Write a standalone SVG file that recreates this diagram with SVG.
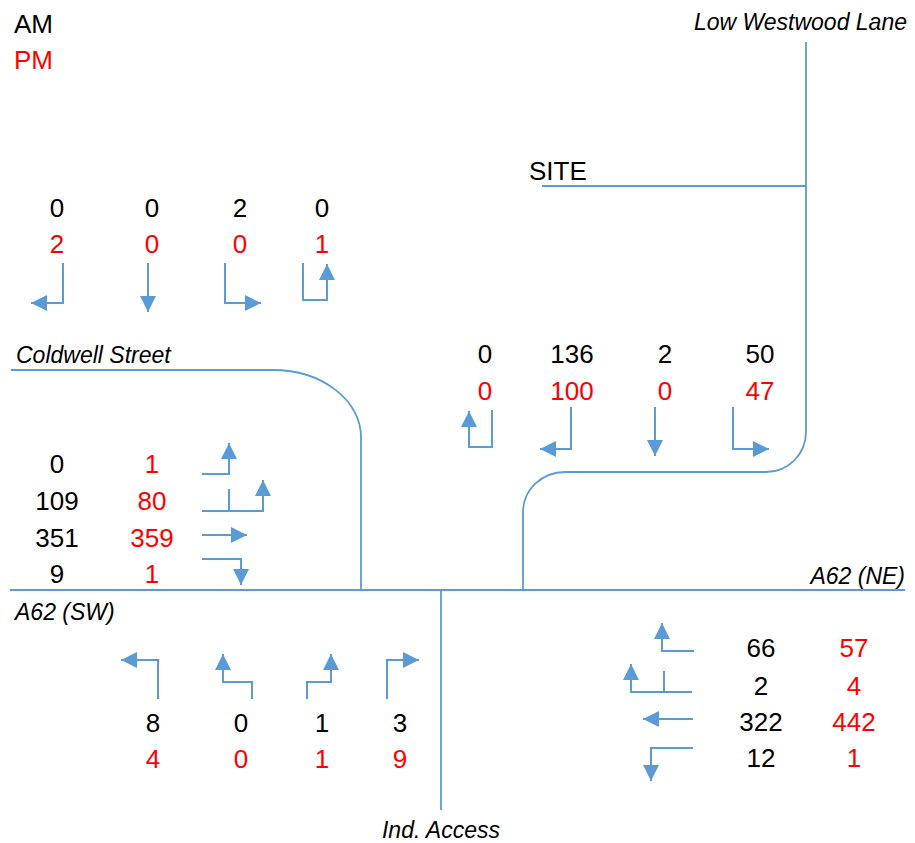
<svg xmlns="http://www.w3.org/2000/svg" width="915" height="843" viewBox="0 0 915 843">
<style>
.road{fill:none;stroke:#5B9BD5;stroke-width:1.8}
.arr{fill:none;stroke:#5B9BD5;stroke-width:2;marker-end:url(#ah)}
.tick{fill:none;stroke:#5B9BD5;stroke-width:2}
text{font-family:"Liberation Sans",Arial,sans-serif}
.n{font-size:26px;text-anchor:middle;fill:#000}
.r{font-size:26px;text-anchor:middle;fill:#FF0000}
.lbl{font-size:23px;font-style:italic;fill:#000}
</style>
<defs>
<marker id="ah" markerUnits="userSpaceOnUse" markerWidth="17" markerHeight="17" refX="16" refY="8" orient="auto">
<path d="M0,0 L16,8 L0,16 z" fill="#5B9BD5"/>
</marker>
</defs>
<g id="legend">
<text x="14" y="33" style="font-size:26px;fill:#000">AM</text>
<text x="14" y="69" style="font-size:26px;fill:#FF0000">PM</text>
</g>
<g id="roads">
<path class="road" d="M806,42 V432 A40,40 0 0 1 766,472 H565 A42,40 0 0 0 523,512 V590"/>
<path class="road" d="M542,186 H806"/>
<path class="road" d="M11,370 H273 A88,67 0 0 1 361,437 V590"/>
<path class="road" d="M10,590 H905"/>
<path class="road" d="M441,590 V810"/>
</g>
<g id="labels">
<text class="lbl" x="907" y="30" text-anchor="end">Low Westwood Lane</text>
<text x="529" y="180" style="font-size:26px;fill:#000">SITE</text>
<text class="lbl" x="16" y="363">Coldwell Street</text>
<text class="lbl" x="905" y="584" text-anchor="end">A62 (NE)</text>
<text class="lbl" x="15" y="620">A62 (SW)</text>
<text class="lbl" x="441" y="838" text-anchor="middle">Ind. Access</text>
</g>
<g id="group-north-coldwell">
<text class="n" x="57" y="217">0</text><text class="n" x="152" y="217">0</text><text class="n" x="240" y="217">2</text><text class="n" x="322" y="217">0</text>
<text class="r" x="57" y="253">2</text><text class="r" x="152" y="253">0</text><text class="r" x="240" y="253">0</text><text class="r" x="322" y="253">1</text>
</g>
<g id="group-site">
<text class="n" x="485" y="363">0</text><text class="n" x="572" y="363">136</text><text class="n" x="665" y="363">2</text><text class="n" x="760" y="363">50</text>
<text class="r" x="485" y="400">0</text><text class="r" x="572" y="400">100</text><text class="r" x="665" y="400">0</text><text class="r" x="760" y="400">47</text>
</g>
<g id="group-a62-sw">
<text class="n" x="57" y="473">0</text><text class="n" x="57" y="510">109</text><text class="n" x="57" y="547">351</text><text class="n" x="57" y="583">9</text>
<text class="r" x="152" y="473">1</text><text class="r" x="152" y="510">80</text><text class="r" x="152" y="547">359</text><text class="r" x="152" y="583">1</text>
</g>
<g id="group-ind-access">
<text class="n" x="153" y="732">8</text><text class="n" x="241" y="732">0</text><text class="n" x="322" y="732">1</text><text class="n" x="400" y="732">3</text>
<text class="r" x="153" y="768">4</text><text class="r" x="241" y="768">0</text><text class="r" x="322" y="768">1</text><text class="r" x="400" y="768">9</text>
</g>
<g id="group-a62-ne">
<text class="n" x="761" y="657">66</text><text class="n" x="761" y="695">2</text><text class="n" x="761" y="731">322</text><text class="n" x="761" y="767">12</text>
<text class="r" x="854" y="657">57</text><text class="r" x="854" y="695">4</text><text class="r" x="854" y="731">442</text><text class="r" x="854" y="767">1</text>
</g>
<g id="connectors">
<path class="arr" d="M63,263 V303 H31"/>
<path class="arr" d="M148,263 V312"/>
<path class="arr" d="M225,263 V303 H261"/>
<path class="arr" d="M303,263 V300 H327 V264"/>

<path class="arr" d="M492,410 V447 H469 V411"/>
<path class="arr" d="M571,407 V449 H540"/>
<path class="arr" d="M655,407 V456"/>
<path class="arr" d="M733,407 V449 H769"/>

<path class="arr" d="M202,474 H229 V443"/>
<path class="arr" d="M202,511 H263 V480"/>
<path class="tick" d="M229,489 V511"/>
<path class="arr" d="M202,535 H247"/>
<path class="arr" d="M202,559 H241 V585"/>

<path class="arr" d="M158,699 V660 H121"/>
<path class="arr" d="M252,699 V682 H223 V654"/>
<path class="arr" d="M307,699 V682 H331 V654"/>
<path class="arr" d="M387,699 V660 H419"/>

<path class="arr" d="M694,651 H662 V623"/>
<path class="arr" d="M692,692 H631 V664"/>
<path class="tick" d="M664,671 V692"/>
<path class="arr" d="M693,719 H643"/>
<path class="arr" d="M693,748 H651 V781"/>
</g>
</svg>
